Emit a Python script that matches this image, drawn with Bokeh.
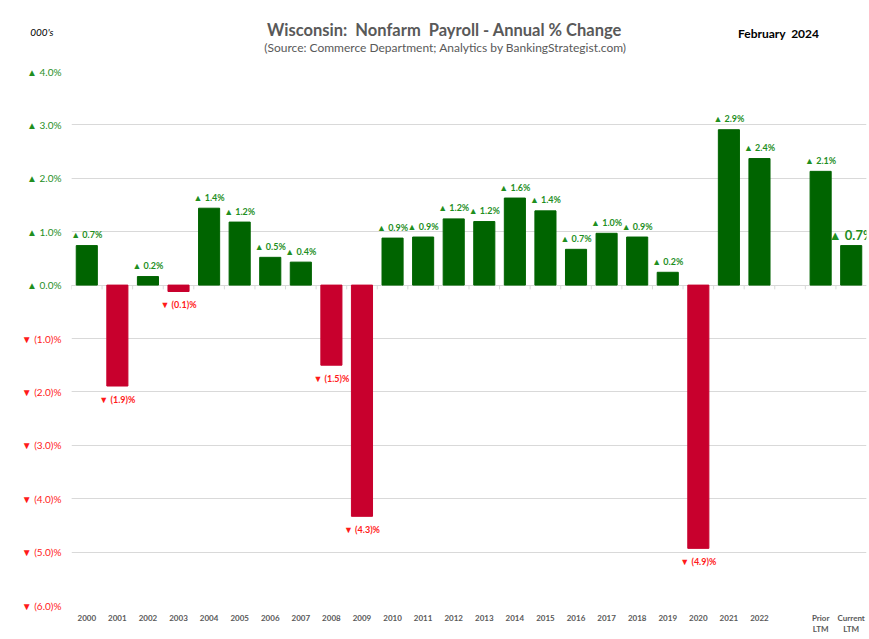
import json
from bokeh.plotting import figure
from bokeh.layouts import column
from bokeh.models import (ColumnDataSource, FactorRange, Range1d, LinearAxis, CategoricalAxis,
                          FixedTicker, LabelSet, Label, Grid, CustomJSTickFormatter)
from bokeh.transform import dodge
from bokeh.core.properties import value
from bokeh.embed import file_html
from bokeh.resources import INLINE

# ---------------- data ----------------
categories = ["2000", "2001", "2002", "2003", "2004", "2005", "2006", "2007", "2008", "2009",
              "2010", "2011", "2012", "2013", "2014", "2015", "2016", "2017", "2018", "2019",
              "2020", "2021", "2022", " ", "Prior LTM", "Current LTM"]
label_line1 = {" ": "", "Prior LTM": "Prior", "Current LTM": "Current"}
label_line2 = {"Prior LTM": "LTM", "Current LTM": "LTM"}
pct_change = [0.74, -1.89, 0.16, -0.12, 1.44, 1.18, 0.52, 0.43, -1.50, -4.33,
              0.88, 0.90, 1.24, 1.19, 1.63, 1.39, 0.67, 0.97, 0.90, 0.24,
              -4.93, 2.91, 2.37, None, 2.13, 0.74]
y_ticks = [-6, -5, -4, -3, -2, -1, 0, 1, 2, 3, 4]

title_text = "Wisconsin:\u00a0 Nonfarm\u00a0 Payroll - Annual % Change"
subtitle_text = "(Source: Commerce Department; Analytics by BankingStrategist.com)"
units_text = "000's"
date_text = "February\u00a0 2024"

# ---------------- styling ----------------
FONT = "Lato"
GREEN_BAR = "#006400"
RED_BAR = "#c8002d"
GREEN_TXT = "#1f8f1f"
RED_TXT = "#ff1a1a"
GRID = "#d9d9d9"
GREY = "#595959"
W, H = 869, 639
HDR_H = 64
LEFT, RIGHT = 71, 3


def bar_label(v):
    return f"\u25b2 {v:.1f}%" if v >= 0 else f"\u25bc ({abs(v):.1f})%"


cats, vals, cols, labels, lcols, loffs, lsizes = [], [], [], [], [], [], []
for c, v in zip(categories, pct_change):
    if v is None:
        continue
    cats.append(c)
    vals.append(v)
    cols.append(GREEN_BAR if v >= 0 else RED_BAR)
    labels.append(bar_label(v))
    lcols.append(GREEN_TXT if v >= 0 else RED_TXT)
    loffs.append(11 if v >= 0 else -13)
    lsizes.append("13px" if c == "Current LTM" else "9px")

src = ColumnDataSource(dict(cat=cats, val=vals, color=cols, label=labels,
                            lcol=lcols, loff=loffs, lsize=lsizes))
tick_src = ColumnDataSource(dict(cat=categories))

# ---------------- header (its frame is aligned with the chart frame) ----------------
hdr = figure(width=W, height=HDR_H, x_range=Range1d(LEFT, W - RIGHT), y_range=Range1d(HDR_H, 0),
             x_axis_location=None, y_axis_location=None,
             output_backend="svg", toolbar_location=None,
             min_border_left=LEFT, min_border_right=RIGHT, min_border_top=0, min_border_bottom=0)
hdr.grid.visible = False
hdr.outline_line_color = None
for txt, x, y, size, style, color in [
        (title_text, 444, 29, "16.5px", "bold", GREY),
        (subtitle_text, 445, 47, "12px", "normal", GREY),
        (date_text, 778, 33, "12px", "bold", "black")]:
    hdr.add_layout(Label(x=x, y=y, text=txt, text_align="center", text_baseline="middle",
                         text_font=FONT, text_font_style=style, text_font_size=size,
                         text_color=color))
# "000's" sits left of the frame: drawn as the single tick label of a header axis
units_axis = LinearAxis(ticker=FixedTicker(ticks=[31]), major_label_overrides={31: units_text})
units_axis.axis_line_color = None
units_axis.major_tick_line_color = None
units_axis.minor_tick_line_color = None
units_axis.major_tick_out = 0
units_axis.major_tick_in = 0
units_axis.major_label_standoff = 18
units_axis.major_label_text_font = FONT
units_axis.major_label_text_font_style = "italic"
units_axis.major_label_text_font_size = "10px"
units_axis.major_label_text_color = "black"
hdr.add_layout(units_axis, "left")

# ---------------- main chart ----------------
p = figure(width=W, height=H - HDR_H - 1,
           x_range=FactorRange(*categories, range_padding=0),
           y_range=Range1d(y_ticks[0], y_ticks[-1]),
           y_axis_location=None,
           output_backend="svg", toolbar_location=None,
           min_border_left=LEFT, min_border_right=RIGHT, min_border_top=7, min_border_bottom=33)
p.outline_line_color = None
p.xgrid.grid_line_color = None

p.add_layout(Grid(dimension=1, ticker=FixedTicker(ticks=y_ticks), grid_line_color=GRID,
                  grid_line_width=1))

# y axes: green labels for >=0 (inner), red labels for <0 (outer)
pos_over = {t: (f"\u25b2 {t:.1f}%" if t >= 0 else "") for t in y_ticks}
neg_over = {t: (f"\u25bc ({abs(t):.1f})%" if t < 0 else "") for t in y_ticks}
for over, color, standoff in [(pos_over, GREEN_TXT, 10), (neg_over, RED_TXT, -37)]:
    ax = LinearAxis(ticker=FixedTicker(ticks=y_ticks), major_label_overrides=over)
    ax.axis_line_color = None
    ax.major_tick_line_color = None
    ax.minor_tick_line_color = None
    ax.major_tick_out = 0
    ax.major_tick_in = 0
    ax.major_label_standoff = standoff
    ax.major_label_text_color = color
    ax.major_label_text_font = FONT
    ax.major_label_text_font_size = "10px"
    p.add_layout(ax, "left")

# x axes: first line of category labels, then second line ("LTM")
fmt1 = CustomJSTickFormatter(code="const m = %s; return (tick in m) ? m[tick] : tick;"
                             % json.dumps(label_line1))
fmt2 = CustomJSTickFormatter(code="const m = %s; return (tick in m) ? m[tick] : '';"
                             % json.dumps(label_line2))
xa2 = CategoricalAxis()
p.add_layout(xa2, "below")
for ax, standoff, fmt in [(p.xaxis[0], 7, fmt1), (xa2, -2, fmt2)]:
    ax.formatter = fmt
    ax.axis_line_color = None
    ax.major_tick_line_color = None
    ax.major_tick_out = 0
    ax.major_tick_in = 0
    ax.major_label_standoff = standoff
    ax.major_label_text_font = FONT
    ax.major_label_text_font_style = "bold"
    ax.major_label_text_font_size = "8px"
    ax.major_label_text_color = GREY

# small ticks on the zero line at category boundaries
p.segment(x0=dodge("cat", -0.5, range=p.x_range), x1=dodge("cat", -0.5, range=p.x_range),
          y0=0, y1=-0.08, line_color=GRID, line_width=1, source=tick_src)

p.vbar(x="cat", top="val", bottom=0, width=0.69, fill_color="color", line_color="color",
       source=src)

p.add_layout(LabelSet(x="cat", y="val", text="label", source=src, y_offset="loff",
                      text_align="center", text_baseline="middle",
                      text_color="lcol", text_font_size="lsize",
                      text_font=value(FONT), text_font_style="bold"))

layout = column(hdr, p, spacing=0)
open("out.html", "w").write(file_html(layout, INLINE))
